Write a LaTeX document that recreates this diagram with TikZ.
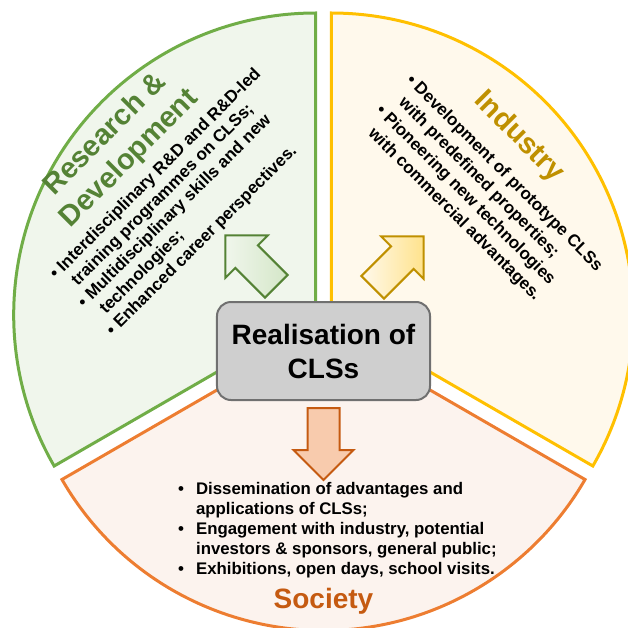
\documentclass[tikz,border=0pt]{standalone}
\usepackage{fontspec}
\setmainfont{Liberation Sans}
\usepackage{xcolor}
\usetikzlibrary{shapes.arrows}

\definecolor{rdline}{HTML}{70AD47}
\definecolor{rdfill}{HTML}{F0F6EC}
\definecolor{rddark}{HTML}{548235}
\definecolor{indline}{HTML}{FFC000}
\definecolor{indfill}{HTML}{FFF9EC}
\definecolor{inddark}{HTML}{BF9000}
\definecolor{socline}{HTML}{ED7D31}
\definecolor{socfill}{HTML}{FCF3EE}
\definecolor{socdark}{HTML}{C55A11}
\definecolor{hubfill}{HTML}{CFCFCF}
\definecolor{hubline}{HTML}{707070}

\newcommand{\secrad}{302}

\begin{document}
\begin{tikzpicture}[x=1pt,y=1pt]
        % Styles
        \tikzstyle{sector} = [line width=3pt, miter limit=4]
        \tikzstyle{hub} = [draw=hubline, fill=hubfill, line width=2pt,
        rounded corners=14pt, minimum width=213pt, minimum height=98pt,
        align=center, font=\fontsize{28}{34}\selectfont\bfseries]
        \tikzstyle{fatarrow} = [single arrow, line width=2pt, inner xsep=0pt,
        inner ysep=15pt, minimum height=72pt, single arrow head extend=14pt,
        anchor=tail]
        \tikzstyle{title} = [align=center, inner sep=0pt,
        font=\fontsize{29}{34}\selectfont\bfseries]
        \tikzstyle{items} = [inner sep=0pt, anchor=west]

        \useasboundingbox (-323.5,-307.5) rectangle (304.5,319.5);

        % Sectors
        \draw[sector, draw=rdline, fill=rdfill] (-7.8,4.5) -- ++(90:\secrad)
            arc[start angle=90, end angle=210, radius=\secrad] -- cycle;
        \draw[sector, draw=indline, fill=indfill] (7.8,4.5) -- ++(-30:\secrad)
            arc[start angle=-30, end angle=90, radius=\secrad] -- cycle;
        \draw[sector, draw=socline, fill=socfill] (0,-9) -- ++(210:\secrad)
            arc[start angle=210, end angle=330, radius=\secrad] -- cycle;

        % Arrows
        \node (rdarrow)  [fatarrow, rotate=135, draw=rddark,
            left color=rdfill, right color=rdline!30] at (-46.5,32.5) {};
        \node (indarrow) [fatarrow, rotate=45, draw=inddark,
            left color=indfill, right color=indline!45] at (48.5,31.5) {};
        \node (socarrow) [fatarrow, rotate=-90, draw=socdark,
            fill=socline!40] at (0,-87.5) {};

        % Centre
        \node (hub) [hub] at (0,-31.5) {Realisation of\\CLSs};

        % Titles
        \node (rdtitle)  [title, rotate=45, text=rddark] at (-206,172.5)
            {Research \&\\Development};
        \node (indtitle) [title, rotate=-45, text=inddark] at (195.5,182.5)
            {Industry};
        \node (soctitle) [title, anchor=base, text=socdark,
            font=\fontsize{28}{34}\selectfont\bfseries] at (0,-288.5) {Society};

        % Bullet lists
        \node (rditems) [items, rotate=45, font=\fontsize{17}{20}\selectfont\bfseries]
            at (-242,14) {%
            \begin{tabular}{@{}l@{ }l@{}}
            \textbullet & Interdisciplinary R\&D and R\&D-led\\
                        & training programmes on CLSs;\\
            \textbullet & Multidisciplinary skills and new\\
                        & technologies;\\
            \textbullet & Enhanced career perspectives.
            \end{tabular}};
        \node (inditems) [items, rotate=-45, font=\fontsize{17}{21.5}\selectfont\bfseries]
            at (62.3,218.7) {%
            \begin{tabular}{@{}l@{ }l@{}}
            \textbullet & Development of prototype CLSs\\
                        & with predefined properties;\\
            \textbullet & Pioneering new technologies\\
                        & with commercial advantages.
            \end{tabular}};
        \node (socitems) [items, font=\fontsize{16.8}{20}\selectfont\bfseries]
            at (-145.5,-210.5) {%
            \begin{tabular}{@{}l@{\hspace{12pt}}l@{}}
            \textbullet & Dissemination of advantages and\\
                        & applications of CLSs;\\
            \textbullet & Engagement with industry, potential\\
                        & investors \& sponsors, general public;\\
            \textbullet & Exhibitions, open days, school visits.
            \end{tabular}};

    \end{tikzpicture}
\end{document}
